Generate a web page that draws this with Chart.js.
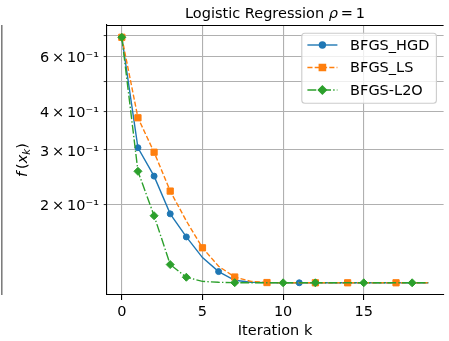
<!DOCTYPE html>
<html>
<head>
<meta charset="utf-8">
<script src="https://cdn.jsdelivr.net/npm/chart.js@4.4.1/dist/chart.umd.min.js"></script>
<style>
html,body{margin:0;padding:0;overflow:hidden;background:#ffffff;}
canvas{display:block;}
</style>
</head>
<body>
<canvas id="c" width="449" height="341"></canvas>
<script>
// ---------------- data ----------------
const iterations = [0,1,2,3,4,5,6,7,8,9,10,11,12,13,14,15,16,17,18,19];
const hgdValues = [0.693,0.305,0.247,0.1866,0.1572,0.1348,0.1215,0.1139,0.1123,0.1119,0.1118,0.1118,0.1118,0.1118,0.1118,0.1118,0.1118,0.1118,0.1118,0.1118];
const lsValues  = [0.693,0.381,0.295,0.221,0.177,0.145,0.1264,0.1167,0.1130,0.1120,0.1118,0.1118,0.1118,0.1118,0.1118,0.1118,0.1118,0.1118,0.1118,0.1118];
const l2oValues = [0.693,0.256,0.184,0.128,0.1165,0.1130,0.1122,0.1119,0.1118,0.1118,0.1118,0.1118,0.1118,0.1118,0.1118,0.1118,0.1118,0.1118,0.1118,0.1118];
const hgdMarkers = [0,1,2,3,4,6,11];
const lsMarkers  = [0,1,2,3,5,7,9,12,14,17];
const l2oMarkers = [0,1,2,3,4,7,10,12,15,18];
const seriesNames = ['BFGS_HGD','BFGS_LS','BFGS-L2O'];
const xTickValues = [0,5,10,15];
const yTickValues = [0.2,0.3,0.4,0.5,0.6,0.7];
const yTickLabels = ['2\u2009\u00d7\u200910\u207b\u00b9','3\u2009\u00d7\u200910\u207b\u00b9','4\u2009\u00d7\u200910\u207b\u00b9','','6\u2009\u00d7\u200910\u207b\u00b9',''];

// ---------------- helpers ----------------
const FONT = "'DejaVu Sans', sans-serif";
const pts = vals => iterations.map((x,i)=>({x:x, y:vals[i]}));
const radii = (marks, r) => iterations.map((x,i)=> marks.includes(i) ? r : 0);

function mkSet(label, vals, marks, color, style, r, dash, order){
  return {
    label: label, data: pts(vals), borderColor: color, backgroundColor: color,
    borderWidth: 1.4, borderDash: dash, borderCapStyle: 'butt', tension: 0,
    pointStyle: style, pointRadius: radii(marks, r), pointHoverRadius: radii(marks, r),
    pointBorderWidth: 1, pointBorderColor: color, pointBackgroundColor: color,
    order: order, legendRadius: r
  };
}

const overlay = {
  id: 'overlay',
  afterDraw(chart){
    const ctx = chart.ctx, a = chart.chartArea;
    ctx.save();
    // top spine
    ctx.strokeStyle = '#000'; ctx.lineWidth = 1.1;
    ctx.beginPath(); ctx.moveTo(a.left, a.top + 0.5); ctx.lineTo(a.right, a.top + 0.5); ctx.stroke();
    // neighbouring panel edge (cropped)
    ctx.strokeStyle = '#777'; ctx.lineWidth = 1.5;
    ctx.beginPath(); ctx.moveTo(1.8, a.top); ctx.lineTo(1.8, a.bottom); ctx.stroke();

    ctx.fillStyle = '#000';
    ctx.textBaseline = 'alphabetic';
    // title with italic rho
    const fs = 14.5;
    const parts = [['Logistic Regression ', 'normal'], ['\u03c1', 'italic'], ['\u2009=\u20091', 'normal']];
    let tw = 0;
    parts.forEach(p => { ctx.font = p[1] + ' ' + fs + 'px ' + FONT; p.push(ctx.measureText(p[0]).width); tw += p[2]; });
    let x = (a.left + a.right) / 2 - tw / 2;
    parts.forEach(p => { ctx.font = p[1] + ' ' + fs + 'px ' + FONT; ctx.fillText(p[0], x, 18.3); x += p[2]; });

    // x label
    ctx.font = fs + 'px ' + FONT; ctx.textAlign = 'center';
    ctx.fillText('Iteration k', (a.left + a.right) / 2, 335);

    // y label  f (x_k)
    ctx.save();
    ctx.translate(27, (a.top + a.bottom) / 2);
    ctx.rotate(-Math.PI / 2);
    ctx.textAlign = 'left';
    const yl = [['f', 'italic', fs, 0], ['\u2009(', 'normal', fs, 0], ['x', 'italic', fs, 0], ['k', 'italic', fs * 0.7, 3], [')', 'normal', fs, 0]];
    let w = 0;
    yl.forEach(p => { ctx.font = p[1] + ' ' + p[2] + 'px ' + FONT; p.push(ctx.measureText(p[0]).width); w += p[4]; });
    let xx = -w / 2;
    yl.forEach(p => { ctx.font = p[1] + ' ' + p[2] + 'px ' + FONT; ctx.fillText(p[0], xx, p[3]); xx += p[4]; });
    ctx.restore();

    // legend
    const lx1 = a.right - 7.2, lx0 = lx1 - 134.6, ly0 = a.top + 8.3, ly1 = ly0 + 70;
    ctx.beginPath();
    if (ctx.roundRect) ctx.roundRect(lx0, ly0, lx1 - lx0, ly1 - ly0, 3); else ctx.rect(lx0, ly0, lx1 - lx0, ly1 - ly0);
    ctx.fillStyle = 'rgba(255,255,255,0.8)'; ctx.fill();
    ctx.strokeStyle = '#cccccc'; ctx.lineWidth = 1.1; ctx.stroke();
    chart.data.datasets.forEach((ds, i) => {
      const ry = ly0 + 11.7 + i * 22.5;
      ctx.save();
      ctx.strokeStyle = ds.borderColor; ctx.lineWidth = ds.borderWidth; ctx.lineCap = 'butt';
      ctx.setLineDash(ds.borderDash || []);
      ctx.beginPath(); ctx.moveTo(lx0 + 5.6, ry); ctx.lineTo(lx0 + 35.6, ry); ctx.stroke();
      ctx.setLineDash([]);
      ctx.fillStyle = ds.pointBackgroundColor; ctx.strokeStyle = ds.pointBorderColor;
      Chart.helpers.drawPoint(ctx, {pointStyle: ds.pointStyle, radius: ds.legendRadius, borderWidth: 1, rotation: 0}, lx0 + 20.6, ry);
      ctx.restore();
      ctx.fillStyle = '#000'; ctx.font = fs + 'px ' + FONT; ctx.textAlign = 'left'; ctx.textBaseline = 'middle';
      ctx.fillText(ds.label, lx0 + 48.3, ry + 1);
    });
    ctx.restore();
  }
};

new Chart(document.getElementById('c').getContext('2d'), {
  type: 'line',
  data: {
    datasets: [
      mkSet(seriesNames[0], hgdValues, hgdMarkers, '#1f77b4', 'circle', 3, [], 3),
      mkSet(seriesNames[1], lsValues, lsMarkers, '#ff7f0e', 'rect', 4.4, [5.1, 2.2], 2),
      mkSet(seriesNames[2], l2oValues, l2oMarkers, '#2ca02c', 'rectRot', 4, [8.9, 2.2, 1.4, 2.2], 1)
    ]
  },
  options: {
    responsive: false, animation: false, devicePixelRatio: 1,
    layout: {padding: {top: 25, left: 0, right: 0, bottom: 0}},
    plugins: {legend: {display: false}, tooltip: {enabled: false}, title: {display: false}},
    elements: {line: {tension: 0}},
    scales: {
      x: {
        type: 'linear', min: -0.95, max: 19.95,
        afterBuildTicks: s => { s.ticks = xTickValues.map(v => ({value: v})); },
        afterFit: s => { s.height = 46; },
        grid: {color: '#b0b0b0', lineWidth: 1.1, drawTicks: true, tickLength: 5, tickColor: '#000', tickWidth: 1.1},
        border: {display: true, color: '#000', width: 1.1},
        ticks: {font: {family: FONT, size: 14.5}, color: '#000', padding: 4, maxRotation: 0, autoSkip: false,
                callback: v => String(v)}
      },
      y: {
        type: 'logarithmic', min: 0.1021, max: 0.7592,
        afterBuildTicks: s => { s.ticks = yTickValues.map(v => ({value: v})); },
        afterFit: s => { s.width = 106.5; },
        grid: {color: '#b0b0b0', lineWidth: 1.1, drawTicks: true, tickLength: 2.8, tickColor: '#000', tickWidth: 0.8},
        border: {display: true, color: '#000', width: 1.1},
        ticks: {font: {family: FONT, size: 14.5}, color: '#000', padding: 4.7, autoSkip: false, labelOffset: 2,
                callback: (v, i) => { const k = yTickValues.indexOf(v); return k >= 0 ? yTickLabels[k] : ''; }}
      }
    }
  },
  plugins: [overlay]
});
</script>
</body>
</html>
